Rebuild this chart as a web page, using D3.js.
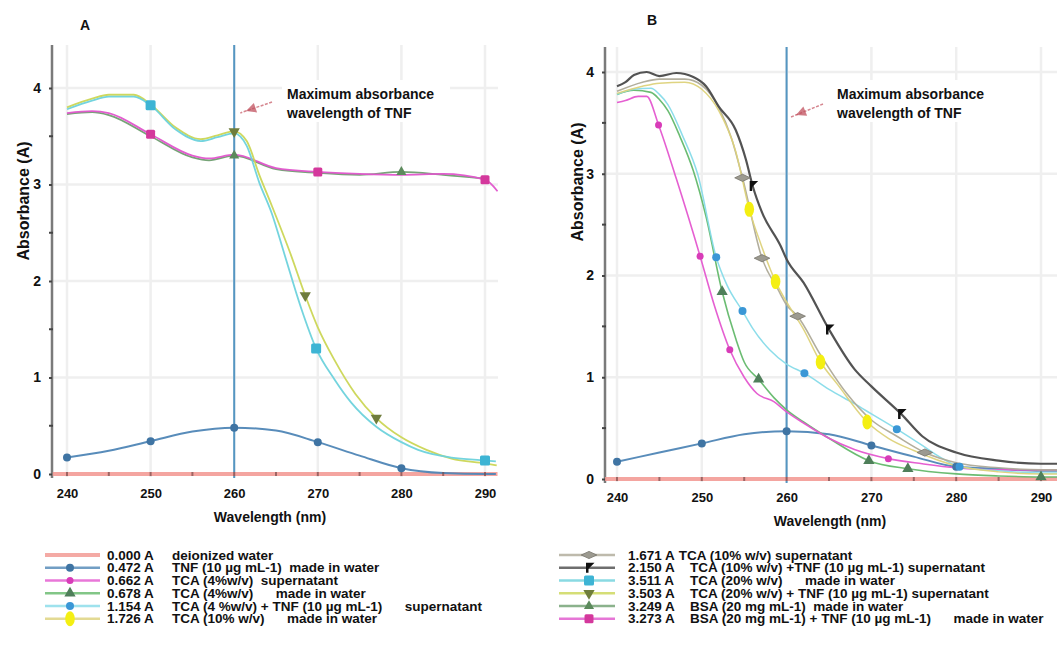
<!DOCTYPE html>
<html>
<head>
<meta charset="utf-8">
<script src="https://cdn.jsdelivr.net/npm/d3@7"></script>
<style>
  body { margin: 0; background: #fff; }
  text { font-family: "Liberation Sans", Arial, sans-serif; font-weight: bold; fill: #111; }
</style>
</head>
<body>
<svg id="chart" width="1057" height="651"></svg>
<script>
// axis ticks
const wavelengthTicks = [240, 250, 260, 270, 280, 290];
const absTicks = [0, 1, 2, 3, 4];
const halfTicks = [0.5, 1.5, 2.5, 3.5];
const peakWavelength = 260;
const annotationLines = ["Maximum absorbance", "wavelength of TNF"];

// panel A curves, [wavelength nm, absorbance]
const aWater = [[238.3, 0], [291.5, 0]];
const aTnf = [[240, 0.17], [245, 0.24], [250, 0.34], [255, 0.44], [260, 0.48], [265, 0.45], [270, 0.33], [275, 0.19], [280, 0.06], [285, 0.01], [290, 0.0], [291.3, 0.0]];
const aTnfMarks = [240, 250, 260, 270, 280];
const aBsa = [[240, 3.73], [243, 3.75], [245, 3.72], [250, 3.50], [255, 3.28], [257, 3.25], [260, 3.30], [265, 3.16], [270, 3.12], [275, 3.10], [280, 3.13], [285, 3.10], [290, 3.06]];
const aBsaMarks = [260, 280];
const aBsaTnf = [[240, 3.74], [243, 3.76], [245, 3.74], [250, 3.52], [255, 3.30], [257, 3.27], [260, 3.31], [265, 3.17], [270, 3.13], [275, 3.11], [280, 3.10], [285, 3.11], [290, 3.05], [291.5, 2.93]];
const aBsaTnfMarks = [250, 270, 290];
const aTca20Tnf = [[240, 3.80], [243, 3.89], [245, 3.93], [248, 3.93], [250, 3.83], [253, 3.59], [256, 3.47], [258, 3.51], [260, 3.55], [261.5, 3.45], [263, 3.10], [264.5, 2.78], [266.7, 2.29], [268.5, 1.85], [270, 1.52], [272, 1.18], [274.5, 0.83], [277, 0.58], [280, 0.38], [283, 0.25], [286, 0.16], [290, 0.11], [291.4, 0.09]];
const aTca20TnfMarks = [260, 268.5, 277];
const aTca20 = [[240, 3.78], [243, 3.87], [245, 3.91], [248, 3.91], [250, 3.82], [253, 3.57], [256, 3.45], [258, 3.49], [260, 3.53], [261.5, 3.40], [263, 3.02], [264.5, 2.70], [266, 2.28], [268, 1.72], [269.8, 1.30], [272, 0.98], [274, 0.74], [277, 0.49], [280, 0.33], [282, 0.25], [286, 0.17], [290, 0.14], [291.3, 0.13]];
const aTca20Marks = [250, 269.8, 290];

// panel B curves
const bWater = [[238.5, 0], [292, 0]];
const bTnf = [[240, 0.17], [245, 0.26], [250, 0.35], [255, 0.44], [260, 0.47], [265, 0.44], [270, 0.33], [275, 0.22], [280, 0.12], [285, 0.10], [290, 0.08], [292, 0.08]];
const bTnfMarks = [240, 250, 260, 270, 280];
const bTca4w = [[240, 3.78], [242, 3.82], [244, 3.80], [245, 3.73], [246, 3.62], [247.4, 3.37], [249, 3.03], [250.5, 2.58], [252.4, 1.84], [254, 1.38], [255, 1.15], [256.7, 0.98], [258.5, 0.80], [260, 0.68], [262, 0.56], [265, 0.40], [269.7, 0.18], [274.3, 0.10], [280, 0.05], [285, 0.03], [290, 0.02], [292, 0.02]];
const bTca4wMarks = [252.4, 256.7, 269.7, 274.3, 290];
const bTca4sup = [[240, 3.70], [241, 3.72], [242.5, 3.76], [243.5, 3.76], [244.9, 3.48], [247, 2.95], [249.8, 2.19], [251.5, 1.70], [253.3, 1.27], [255, 1.0], [256.5, 0.84], [258.5, 0.76], [260, 0.66], [262, 0.55], [265, 0.40], [268, 0.29], [272, 0.20], [276, 0.15], [280, 0.11], [285, 0.09], [290, 0.09], [292, 0.09]];
const bTca4supMarks = [244.9, 249.8, 253.3, 272];
const bTca4tnf = [[240, 3.78], [242, 3.83], [244, 3.84], [245, 3.78], [246, 3.68], [247.7, 3.38], [249.5, 3.0], [251.7, 2.18], [253, 1.90], [254.8, 1.65], [256, 1.48], [258, 1.27], [260, 1.13], [262.1, 1.04], [265, 0.88], [268, 0.74], [270, 0.64], [273, 0.49], [276, 0.33], [278, 0.22], [280.4, 0.12], [285, 0.08], [290, 0.06], [292, 0.06]];
const bTca4tnfMarks = [251.7, 254.8, 262.1, 273, 280.4];
const bTca10sup = [[240, 3.81], [243, 3.90], [245, 3.93], [248, 3.93], [250, 3.87], [252, 3.65], [253.5, 3.35], [254.8, 2.96], [257.1, 2.17], [259, 1.86], [260, 1.71], [261.3, 1.60], [264, 1.22], [267, 0.85], [270, 0.58], [273, 0.42], [276.3, 0.26], [280, 0.16], [285, 0.11], [290, 0.09], [292, 0.09]];
const bTca10supMarks = [254.8, 257.1, 261.3, 276.3];
const bTca10w = [[240, 3.79], [243, 3.86], [245, 3.89], [248, 3.90], [250, 3.83], [252, 3.62], [254, 3.22], [255.6, 2.65], [257, 2.30], [258.7, 1.94], [260, 1.74], [262, 1.47], [264, 1.15], [266, 0.93], [269.5, 0.56], [272, 0.40], [275, 0.28], [280, 0.13], [285, 0.07], [290, 0.05], [292, 0.05]];
const bTca10wMarks = [255.6, 258.7, 264, 269.5];
const bTca10tnf = [[240, 3.86], [241, 3.90], [242, 3.97], [243.5, 4.0], [245, 3.96], [247, 3.99], [249, 3.95], [250.5, 3.86], [252, 3.66], [254, 3.43], [255.2, 3.14], [256, 2.88], [257.1, 2.62], [259.3, 2.29], [260, 2.16], [262, 1.93], [265, 1.47], [268, 1.08], [270, 0.91], [273.5, 0.64], [276, 0.42], [280, 0.26], [285, 0.18], [290, 0.15], [292, 0.15]];
const bTca10tnfMarks = [256, 265, 273.5];

// legends
const legendKeysA = ["water", "tnf", "tca4sup", "tca4w", "tca4tnf", "tca10w"];
const legendValuesA = ["0.000 A", "0.472 A", "0.662 A", "0.678 A", "1.154 A", "1.726 A"];
const legendTextA = ["deionized water", "TNF (10 µg mL-1)  made in water", "TCA (4%w/v)  supernatant",
  "TCA (4%w/v)      made in water", "TCA (4 %w/v) + TNF (10 µg mL-1)      supernatant", "TCA (10% w/v)      made in water"];
const legendKeysB = ["tca10sup", "tca10tnf", "tca20w", "tca20tnf", "bsa", "bsatnf"];
const legendValuesB = ["1.671 A", "2.150 A", "3.511 A", "3.503 A", "3.249 A", "3.273 A"];
const legendTextB = ["TCA (10% w/v) supernatant", "TCA (10% w/v) +TNF (10 µg mL-1) supernatant", "TCA (20% w/v)      made in water",
  "TCA (20% w/v) + TNF (10 µg mL-1) supernatant", "BSA (20 mg mL-1)  made in water", "BSA (20 mg mL-1) + TNF (10 µg mL-1)      made in water"];
const legendInlineB = [true, false, false, false, false, false];

// look of each series
const styles = {
  water:    { line: "#f2958f", width: 4, marker: null },
  tnf:      { line: "#4f86b6", width: 2, marker: "circle", fill: "#3f74a3", size: 4 },
  tca4sup:  { line: "#e456cf", width: 1.6, marker: "circle", fill: "#d83cb8", size: 3.5 },
  tca4w:    { line: "#63b86a", width: 1.6, marker: "triUp", fill: "#4f7f5a", size: 5 },
  tca4tnf:  { line: "#86dbe9", width: 1.5, marker: "circle", fill: "#3a97d6", size: 4 },
  tca10w:   { line: "#ddd27a", width: 1.5, marker: "blob", fill: "#f4ef12", size: 6 },
  tca10sup: { line: "#aeaa98", width: 1.6, marker: "diamond", fill: "#9c9a90", size: 6 },
  tca10tnf: { line: "#4a4a4a", width: 2.2, marker: "flag", fill: "#111", size: 5 },
  tca20w:   { line: "#6dd2dc", width: 1.8, marker: "square", fill: "#3db4d4", size: 5 },
  tca20tnf: { line: "#cbd655", width: 1.8, marker: "triDown", fill: "#6f7d3c", size: 5 },
  bsa:      { line: "#6f9f70", width: 1.8, marker: "triUp", fill: "#5c8a5c", size: 4.5 },
  bsatnf:   { line: "#e055cc", width: 1.8, marker: "square", fill: "#d4389c", size: 4.5 }
};

const panels = [
  {
    title: "A", titleX: 85, titleY: 25, left: 52, right: 498, top: 45,
    x240: 67, x290: 485, y0: 474, y4: 88, xPad: 15,
    ylabX: 23, ylabY: 201, xlabX: 270, xlabY: 517,
    annX: 287, annY: 94, tail: [272, 102], head: [246, 111],
    curves: [
      { key: "water", data: aWater, marks: [] },
      { key: "tnf", data: aTnf, marks: aTnfMarks },
      { key: "bsa", data: aBsa, marks: aBsaMarks },
      { key: "bsatnf", data: aBsaTnf, marks: aBsaTnfMarks },
      { key: "tca20tnf", data: aTca20Tnf, marks: aTca20TnfMarks },
      { key: "tca20w", data: aTca20, marks: aTca20Marks }
    ],
    legend: { keys: legendKeysA, values: legendValuesA, texts: legendTextA, inline: [],
      x0: 45, x1: 100, mx: 70, vx: 107, dx: 172, y: 555, step: 12.75 }
  },
  {
    title: "B", titleX: 652, titleY: 20, left: 605, right: 1057, top: 47,
    x240: 617, x290: 1041, y0: 479, y4: 72, xPad: 14,
    ylabX: 577, ylabY: 182, xlabX: 830, xlabY: 521,
    annX: 837, annY: 94, tail: [823, 104], head: [796, 115],
    curves: [
      { key: "water", data: bWater, marks: [] },
      { key: "tnf", data: bTnf, marks: bTnfMarks },
      { key: "tca4w", data: bTca4w, marks: bTca4wMarks },
      { key: "tca4sup", data: bTca4sup, marks: bTca4supMarks },
      { key: "tca4tnf", data: bTca4tnf, marks: bTca4tnfMarks },
      { key: "tca10sup", data: bTca10sup, marks: bTca10supMarks },
      { key: "tca10w", data: bTca10w, marks: bTca10wMarks },
      { key: "tca10tnf", data: bTca10tnf, marks: bTca10tnfMarks }
    ],
    legend: { keys: legendKeysB, values: legendValuesB, texts: legendTextB, inline: legendInlineB,
      x0: 559, x1: 615, mx: 589, vx: 628, dx: 690, y: 555, step: 12.75 }
  }
];

const svg = d3.select("#chart");

function drawMarker(g, st, cx, cy) {
  const s = st.size;
  let m;
  switch (st.marker) {
    case "circle":
      m = g.append("circle").attr("cx", cx).attr("cy", cy).attr("r", s);
      break;
    case "square":
      m = g.append("rect").attr("x", cx - s).attr("y", cy - s)
        .attr("width", 2 * s).attr("height", 2 * s).attr("rx", 1.5);
      break;
    case "blob":
      m = g.append("ellipse").attr("cx", cx).attr("cy", cy).attr("rx", s * 0.8).attr("ry", s * 1.25);
      break;
    case "triUp":
      m = g.append("path").attr("d", d3.symbol(d3.symbolTriangle, s * s * 2.2)())
        .attr("transform", `translate(${cx},${cy})`);
      break;
    case "triDown":
      m = g.append("path").attr("d", d3.symbol(d3.symbolTriangle, s * s * 2.2)())
        .attr("transform", `translate(${cx},${cy}) rotate(180)`);
      break;
    case "diamond":
      m = g.append("path")
        .attr("d", `M${-s * 1.3},0L0,${-s * 0.6}L${s * 1.3},0L0,${s * 0.6}Z`)
        .attr("transform", `translate(${cx},${cy})`)
        .attr("stroke", "#77756c").attr("stroke-width", 0.8);
      break;
    case "flag":
      m = g.append("path")
        .attr("d", `M${-s * 0.6},${s} L${-s * 0.6},${-s} L${s * 1.1},${-s} L${-s * 0.1},${s * 0.2} L${-s * 0.1},${s} Z`)
        .attr("transform", `translate(${cx},${cy})`);
      break;
    default:
      return;
  }
  m.attr("fill", st.fill);
}

panels.forEach(p => {
  const x = d3.scaleLinear().domain([240, 290]).range([p.x240, p.x290]);
  const y = d3.scaleLinear().domain([0, 4]).range([p.y0, p.y4]);
  const g = svg.append("g");

  // faint grid
  g.selectAll("line.vgrid").data(wavelengthTicks).join("line").attr("class", "vgrid")
    .attr("x1", d => x(d)).attr("x2", d => x(d)).attr("y1", p.top).attr("y2", p.y0 + 3)
    .attr("stroke", "#efefef").attr("stroke-width", 2.5);
  g.selectAll("line.hgrid").data(absTicks.filter(d => d > 0)).join("line").attr("class", "hgrid")
    .attr("x1", p.left).attr("x2", p.right).attr("y1", d => y(d)).attr("y2", d => y(d))
    .attr("stroke", "#efefef").attr("stroke-width", 2.5);

  // peak marker line
  g.append("line")
    .attr("x1", x(peakWavelength)).attr("x2", x(peakWavelength))
    .attr("y1", p.top).attr("y2", p.y0 + 4)
    .attr("stroke", "#5596c2").attr("stroke-width", 2);

  // y axis
  g.append("line").attr("x1", p.left).attr("x2", p.left).attr("y1", p.top).attr("y2", p.y0 + 4)
    .attr("stroke", "#7a7a7a").attr("stroke-width", 2.5);
  const yAxis = g.append("g").attr("transform", `translate(${p.left},0)`)
    .call(d3.axisLeft(y).tickValues(absTicks).tickFormat(d3.format("d")).tickSize(3).tickPadding(8));
  yAxis.select(".domain").remove();
  yAxis.selectAll("line").attr("stroke", "#444").attr("stroke-width", 2);
  yAxis.selectAll("text").style("font-size", "14px");
  g.selectAll("line.half").data(halfTicks).join("line").attr("class", "half")
    .attr("x1", p.left - 3).attr("x2", p.left + 1).attr("y1", d => y(d)).attr("y2", d => y(d))
    .attr("stroke", "#444").attr("stroke-width", 2);

  // x axis labels
  const xAxis = g.append("g").attr("transform", `translate(0,${p.y0})`)
    .call(d3.axisBottom(x).tickValues(wavelengthTicks).tickFormat(d3.format("d")).tickSize(0).tickPadding(p.xPad));
  xAxis.select(".domain").remove();
  xAxis.selectAll("text").style("font-size", "13px");

  // clip
  g.append("clipPath").attr("id", "clip" + p.title).append("rect")
    .attr("x", p.left).attr("y", p.top).attr("width", p.right - p.left).attr("height", p.y0 - p.top + 10);
  const plot = g.append("g").attr("clip-path", `url(#clip${p.title})`);

  const line = d3.line().x(d => x(d[0])).y(d => y(d[1])).curve(d3.curveMonotoneX);
  p.curves.forEach(c => {
    const st = styles[c.key];
    plot.append("path").datum(c.data)
      .attr("d", line).attr("fill", "none")
      .attr("stroke", st.line).attr("stroke-width", st.width)
      .attr("stroke-linejoin", "round").attr("opacity", c.key === "water" ? 0.85 : 0.95);
  });

  // small ticks every 5 nm on the baseline
  plot.selectAll("line.xt").data(d3.range(240, 291, 5)).join("line").attr("class", "xt")
    .attr("x1", d => x(d)).attr("x2", d => x(d)).attr("y1", p.y0 - 2).attr("y2", p.y0 + 2)
    .attr("stroke", "#7a4a4a").attr("stroke-width", 2).attr("opacity", 0.7);

  p.curves.forEach(c => {
    const st = styles[c.key];
    c.marks.forEach(w => {
      const pt = c.data.find(d => d[0] === w);
      if (pt) drawMarker(plot, st, x(pt[0]), y(pt[1]));
    });
  });

  // titles
  g.append("text").attr("x", p.titleX).attr("y", p.titleY).attr("dy", "0.35em")
    .attr("text-anchor", "middle").style("font-size", "14px").text(p.title);
  g.append("text").attr("transform", `translate(${p.ylabX},${p.ylabY}) rotate(-90)`)
    .attr("dy", "0.35em").attr("text-anchor", "middle").style("font-size", "16px").text("Absorbance (A)");
  g.append("text").attr("x", p.xlabX).attr("y", p.xlabY).attr("dy", "0.35em")
    .attr("text-anchor", "middle").style("font-size", "14px").text("Wavelength (nm)");

  // annotation
  g.append("rect").attr("x", p.annX - 5).attr("y", p.annY - 14).attr("width", 168).attr("height", 42)
    .attr("fill", "#fff");
  g.selectAll("text.ann").data(annotationLines).join("text").attr("class", "ann")
    .attr("x", p.annX).attr("y", (d, i) => p.annY + i * 19).attr("dy", "0.35em")
    .style("font-size", "14px").text(d => d);
  const [tx, ty] = p.tail, [hx, hy] = p.head;
  const ang = Math.atan2(hy - ty, hx - tx);
  g.append("line").attr("x1", tx).attr("y1", ty).attr("x2", hx + 6 * Math.cos(ang)).attr("y2", hy + 6 * Math.sin(ang))
    .attr("stroke", "#c9606c").attr("stroke-width", 1.5).attr("stroke-dasharray", "3,1.5").attr("opacity", 0.75);
  const hl = 10, hw = 5;
  const bx = hx - hl * Math.cos(ang), by = hy - hl * Math.sin(ang);
  g.append("path")
    .attr("d", `M${hx},${hy} L${bx + hw * Math.sin(ang)},${by - hw * Math.cos(ang)} L${bx - hw * Math.sin(ang)},${by + hw * Math.cos(ang)} Z`)
    .attr("fill", "#c0505e").attr("opacity", 0.75);

  // legend
  const L = p.legend;
  L.keys.forEach((k, i) => {
    const st = styles[k];
    const cy = L.y + i * L.step;
    g.append("line").attr("x1", L.x0).attr("x2", L.x1).attr("y1", cy).attr("y2", cy)
      .attr("stroke", st.line).attr("stroke-width", k === "water" ? 4 : 2.5).attr("opacity", 0.8);
    drawMarker(g, st, L.mx, cy);
    const vt = g.append("text").attr("x", L.vx).attr("y", cy).attr("dy", "0.35em")
      .style("font-size", "13.5px").style("white-space", "pre").text(L.values[i]);
    const dx = L.inline[i] ? L.vx + vt.node().getComputedTextLength() + 4 : L.dx;
    g.append("text").attr("x", dx).attr("y", cy).attr("dy", "0.35em")
      .style("font-size", "13.5px").style("white-space", "pre").text(L.texts[i]);
  });
});
</script>
</body>
</html>
